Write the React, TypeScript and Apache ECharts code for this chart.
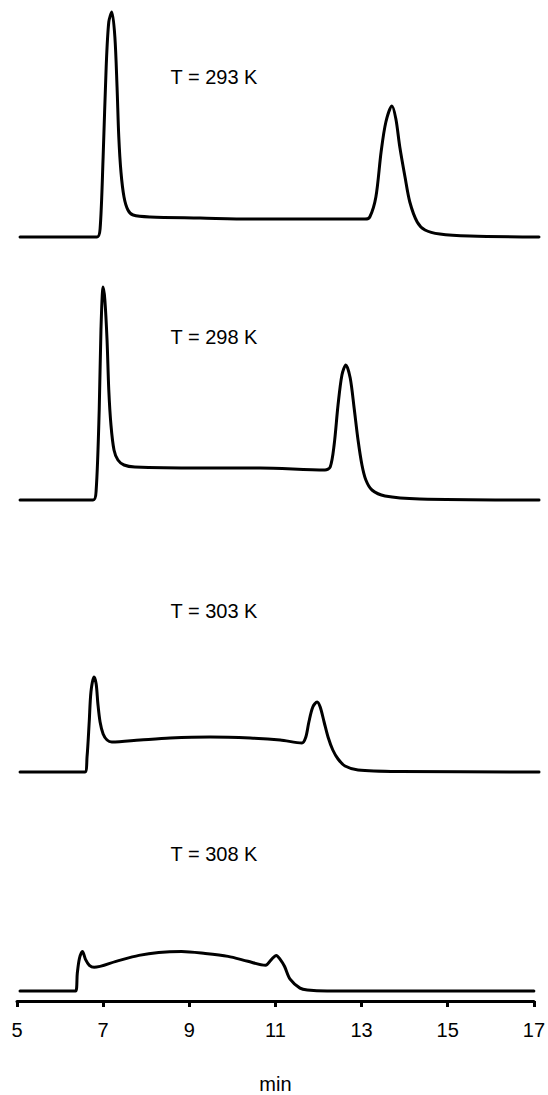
import React, { useEffect, useRef } from "react";
import * as echarts from "echarts";

// Retention time (min) and detector signal (arbitrary units) for each temperature
const labels = ["T = 293 K", "T = 298 K", "T = 303 K", "T = 308 K"];

const t293 = [5.07, 6.84, 6.91, 6.98, 7.05, 7.11, 7.18, 7.25, 7.3, 7.34, 7.39, 7.46, 7.55, 7.67, 8.06, 9.21, 10.36, 11.51, 13.0, 13.11, 13.25, 13.37, 13.48, 13.62, 13.71, 13.8, 13.92, 14.03, 14.2, 14.38, 14.72, 15.41, 17.0];
const s293 = [0, 0, 8, 80, 170, 215, 225, 200, 150, 100, 65, 40, 27, 22, 20, 19, 18, 18, 18, 20, 40, 85, 115, 131, 118, 90, 60, 35, 15, 7, 3, 1, 0];

const t298 = [5.07, 6.75, 6.82, 6.89, 6.93, 6.98, 7.02, 7.07, 7.11, 7.16, 7.23, 7.32, 7.46, 7.71, 9.21, 10.59, 12.08, 12.2, 12.29, 12.38, 12.47, 12.56, 12.66, 12.75, 12.84, 12.93, 13.02, 13.16, 13.46, 14.26, 17.0];
const s298 = [0, 0, 10, 90, 170, 213, 200, 160, 110, 75, 50, 40, 35, 33, 32, 32, 30, 33, 55, 95, 125, 135, 122, 92, 60, 35, 20, 10, 4, 1, 0];

const t303 = [5.07, 6.56, 6.61, 6.66, 6.7, 6.77, 6.82, 6.86, 6.91, 6.98, 7.07, 7.18, 7.83, 8.52, 9.44, 10.36, 11.05, 11.55, 11.64, 11.71, 11.8, 11.9, 11.97, 12.06, 12.15, 12.26, 12.38, 12.54, 12.84, 13.8, 17.0];
const s303 = [0, 0, 15, 50, 80, 95, 88, 68, 50, 38, 32, 30, 32, 34, 35, 34, 32, 29, 35, 50, 65, 70, 65, 50, 35, 22, 13, 6, 2, 0.5, 0];

const t308 = [5.07, 6.36, 6.4, 6.45, 6.52, 6.59, 6.68, 6.79, 7.3, 7.83, 8.29, 8.82, 9.37, 9.9, 10.36, 10.77, 10.91, 11.02, 11.11, 11.21, 11.34, 11.57, 11.74, 12.2, 17.0];
const s308 = [0, 0, 18, 33, 40, 32, 26, 24, 30, 36, 39, 40, 38, 35, 30, 26, 32, 36, 32, 25, 12, 3, 1, 0, 0];

const times = [t293, t298, t303, t308];
const signals = [s293, s298, s303, s308];

const xMin = 5;
const xMax = 17;
const xInterval = 2;
const xName = "min";

const FONT = "'Liberation Sans', Arial, Helvetica, sans-serif";

export default function App() {
  const ref = useRef<HTMLDivElement>(null);

  useEffect(() => {
    if (!ref.current) return;
    const chart = echarts.init(ref.current, null, { renderer: "svg" });

    const gridTops = [7, 270, 542, 763];
    const gridHeight = 240;
    const labelY = [77, 337, 611, 854];

    const grids = gridTops.map((top) => ({
      left: 17,
      right: 9,
      top,
      height: gridHeight,
      containLabel: false,
    }));

    const xAxes = gridTops.map((_, i) => {
      const last = i === gridTops.length - 1;
      return {
        type: "value",
        gridIndex: i,
        min: xMin,
        max: xMax,
        interval: xInterval,
        show: last,
        name: last ? xName : "",
        nameLocation: "middle",
        nameGap: 73,
        nameTextStyle: { color: "#000", fontSize: 20, fontFamily: FONT },
        axisLine: { show: last, onZero: false, lineStyle: { color: "#000", width: 3 } },
        axisTick: { show: last, inside: false, length: 6, lineStyle: { color: "#000", width: 3 } },
        axisLabel: { show: last, color: "#000", fontSize: 20, fontFamily: FONT, margin: 19 },
        splitLine: { show: false },
      };
    });

    const yAxes = gridTops.map((_, i) => ({
      type: "value",
      gridIndex: i,
      min: -10,
      max: 230,
      show: false,
      splitLine: { show: false },
    }));

    const series = signals.map((sig, i) => ({
      type: "line",
      name: labels[i],
      xAxisIndex: i,
      yAxisIndex: i,
      data: sig.map((v, j) => [times[i][j], v]),
      showSymbol: false,
      symbol: "none",
      smooth: 0.3,
      clip: false,
      lineStyle: { color: "#000", width: 3, join: "round", cap: "round" },
    }));

    const graphic = labels.map((text, i) => ({
      type: "text",
      x: 214,
      y: labelY[i],
      style: {
        text,
        fill: "#000",
        font: `20px ${FONT}`,
        textAlign: "center",
        textVerticalAlign: "middle",
      },
    }));

    chart.setOption({
      animation: false,
      backgroundColor: "#fff",
      grid: grids,
      xAxis: xAxes,
      yAxis: yAxes,
      series,
      graphic,
    });

    return () => chart.dispose();
  }, []);

  return (
    <div
      ref={ref}
      style={{ position: "absolute", left: 0, top: 0, width: 548, height: 1095 }}
    />
  );
}
